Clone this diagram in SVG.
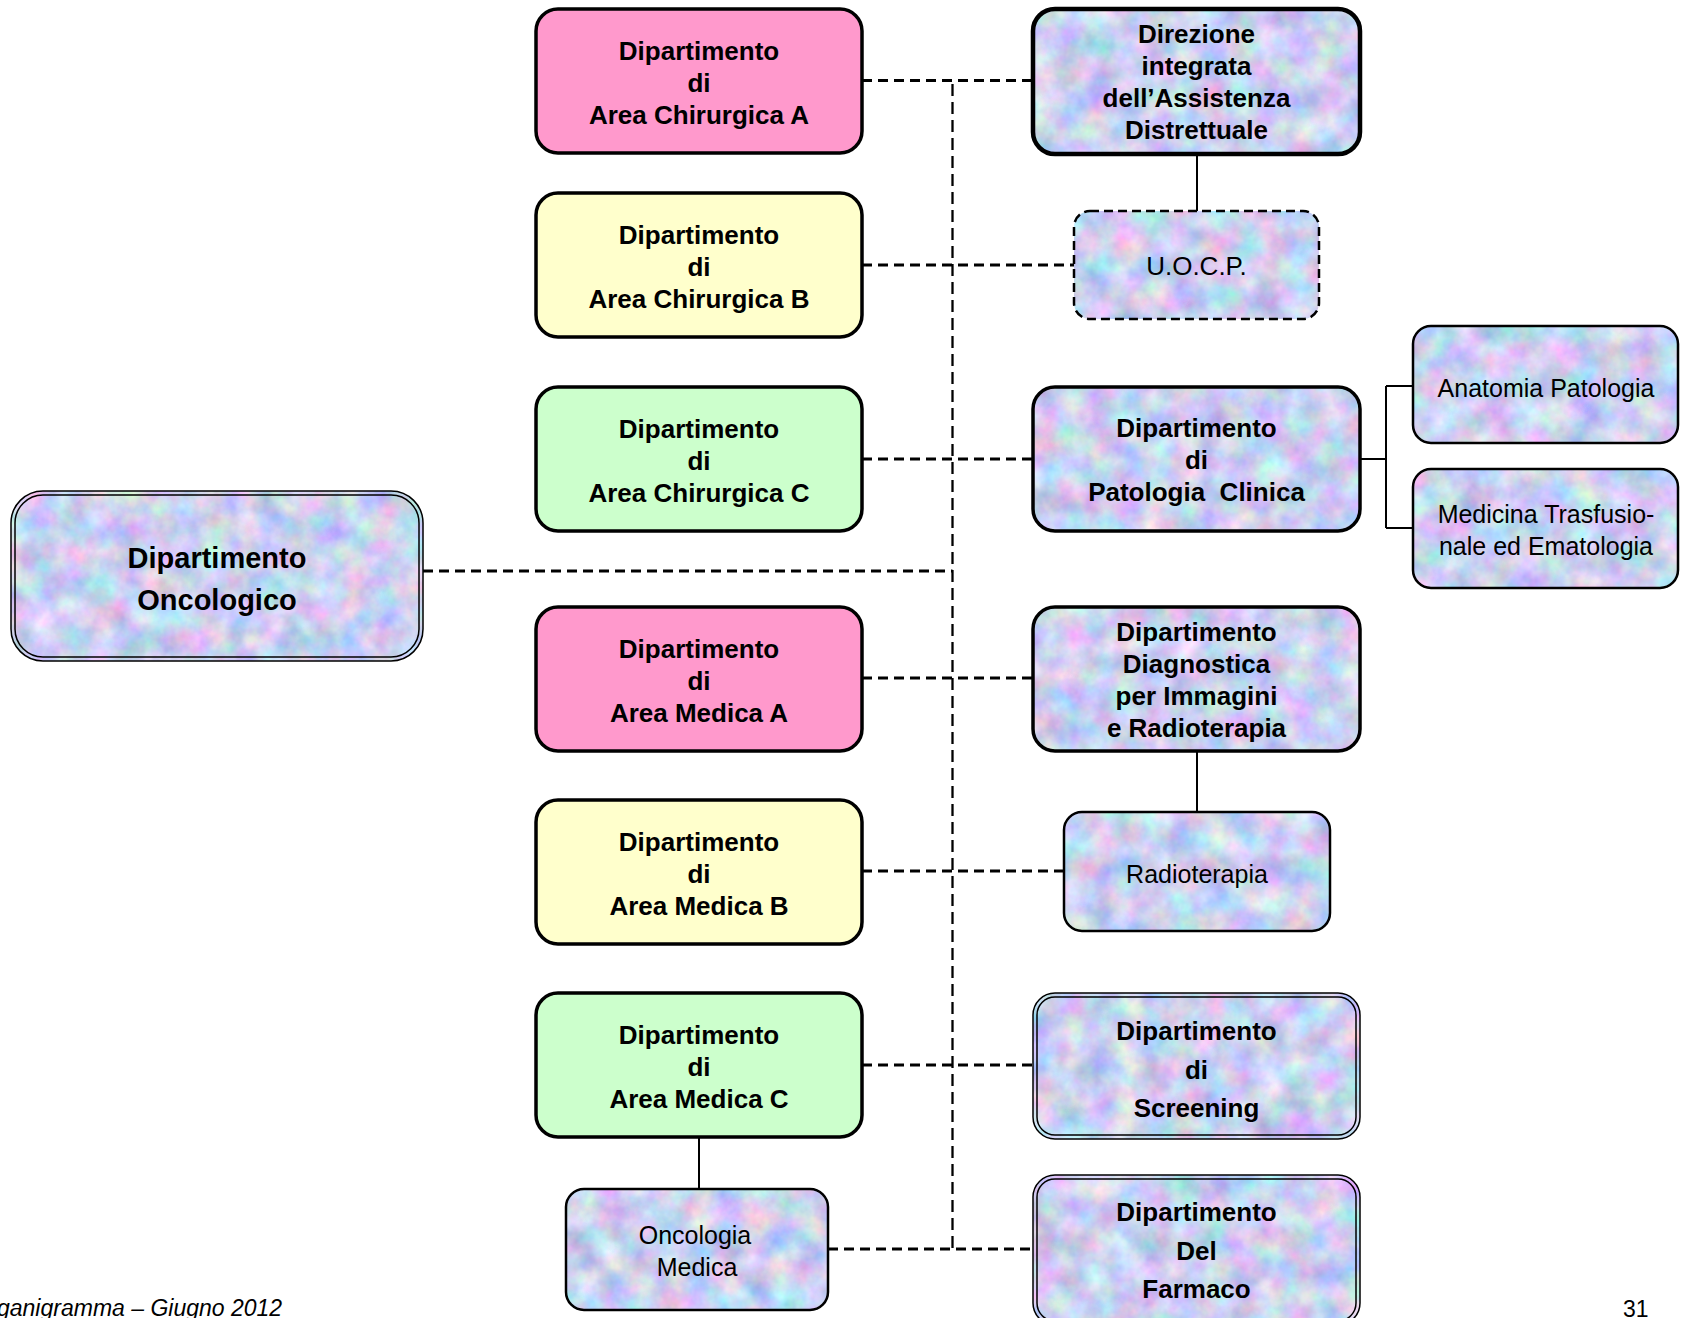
<svg xmlns="http://www.w3.org/2000/svg" width="1682" height="1318" viewBox="0 0 1682 1318">
<defs>
<filter id="tex" x="0" y="0" width="1" height="1" color-interpolation-filters="sRGB">
<feTurbulence type="fractalNoise" baseFrequency="0.035" numOctaves="4" seed="7" result="n"/>
<feColorMatrix in="n" type="matrix" values="0.55 0 0 0 0.52  0 0.45 0 0 0.59  0 0 0.3 0 0.79  0 0 0 0 1" result="c"/>
<feComposite in="c" in2="SourceAlpha" operator="in"/>
</filter>
</defs>
<style>
.tex{fill:#000;filter:url(#tex)}
.b{fill:none;stroke:#000;stroke-width:3.5}
.b4{fill:none;stroke:#000;stroke-width:4.5}
.b2{fill:none;stroke:#000;stroke-width:2.5}
.bd{fill:none;stroke:#000;stroke-width:2.5;stroke-dasharray:9 5}
.bt{fill:none;stroke:#000;stroke-width:1.5}
.pink{fill:#ff99cc;stroke:#000;stroke-width:3.5}
.yel{fill:#ffffcc;stroke:#000;stroke-width:3.5}
.grn{fill:#ccffcc;stroke:#000;stroke-width:3.5}
text{font-family:"Liberation Sans",Arial,sans-serif;text-anchor:middle;fill:#000}
.t{font-size:26px;font-weight:bold}
.tl{font-size:29px;font-weight:bold}
.r{font-size:25px}
.ft{font-size:23px;text-anchor:start;font-style:italic}
.pg{font-size:23px;text-anchor:start}
.dash{fill:none;stroke:#000;stroke-width:2.8;stroke-dasharray:10 6}
.vdash{fill:none;stroke:#000;stroke-width:2.3;stroke-dasharray:12 6}
.solid{fill:none;stroke:#000;stroke-width:2}
</style>

<g id="connectors">
<path class="dash" d="M862 80.5H1033M862 265H1074M862 459H1033M862 678H1033M862 871H1064M862 1065H1033M828 1249H1033M423 571H952.5"/>
<path class="vdash" d="M952.5 84V1249"/>
<path class="solid" d="M1197 154V211M1197 751V812M699 1137V1189M1360 459H1386M1386 386V528M1386 386H1413M1386 528H1413"/>
</g>

<g id="chir-a">
<rect class="pink" x="536" y="9" width="326" height="144" rx="22"/>
<text class="t" x="699" y="60">Dipartimento</text>
<text class="t" x="699" y="92">di</text>
<text class="t" x="699" y="124">Area Chirurgica A</text>
</g>
<g id="chir-b">
<rect class="yel" x="536" y="193" width="326" height="144" rx="22"/>
<text class="t" x="699" y="244">Dipartimento</text>
<text class="t" x="699" y="276">di</text>
<text class="t" x="699" y="308">Area Chirurgica B</text>
</g>
<g id="chir-c">
<rect class="grn" x="536" y="387" width="326" height="144" rx="22"/>
<text class="t" x="699" y="438">Dipartimento</text>
<text class="t" x="699" y="470">di</text>
<text class="t" x="699" y="502">Area Chirurgica C</text>
</g>
<g id="med-a">
<rect class="pink" x="536" y="607" width="326" height="144" rx="22"/>
<text class="t" x="699" y="658">Dipartimento</text>
<text class="t" x="699" y="690">di</text>
<text class="t" x="699" y="722">Area Medica A</text>
</g>
<g id="med-b">
<rect class="yel" x="536" y="800" width="326" height="144" rx="22"/>
<text class="t" x="699" y="851">Dipartimento</text>
<text class="t" x="699" y="883">di</text>
<text class="t" x="699" y="915">Area Medica B</text>
</g>
<g id="med-c">
<rect class="grn" x="536" y="993" width="326" height="144" rx="22"/>
<text class="t" x="699" y="1044">Dipartimento</text>
<text class="t" x="699" y="1076">di</text>
<text class="t" x="699" y="1108">Area Medica C</text>
</g>

<g id="oncologico">
<rect class="tex" x="11" y="491" width="412" height="170" rx="32"/>
<rect class="bt" x="11" y="491" width="412" height="170" rx="32"/>
<rect class="bt" x="15" y="495" width="404" height="162" rx="28"/>
<text class="tl" x="217" y="568">Dipartimento</text>
<text class="tl" x="217" y="610">Oncologico</text>
</g>

<g id="oncologia-medica">
<rect class="tex" x="566" y="1189" width="262" height="121" rx="18"/>
<rect class="b2" x="566" y="1189" width="262" height="121" rx="18"/>
<text class="r" x="695" y="1244">Oncologia</text>
<text class="r" x="697" y="1276">Medica</text>
</g>

<g id="direzione">
<rect class="tex" x="1033" y="9" width="327" height="145" rx="22"/>
<rect class="b4" x="1033" y="9" width="327" height="145" rx="22"/>
<text class="t" x="1196.5" y="43">Direzione</text>
<text class="t" x="1196.5" y="75">integrata</text>
<text class="t" x="1196.5" y="107">dell’Assistenza</text>
<text class="t" x="1196.5" y="139">Distrettuale</text>
</g>

<g id="uocp">
<rect class="tex" x="1074" y="211" width="245" height="108" rx="16"/>
<rect class="bd" x="1074" y="211" width="245" height="108" rx="16"/>
<text class="r" x="1196.5" y="275" style="font-size:26px">U.O.C.P.</text>
</g>

<g id="patologia">
<rect class="tex" x="1033" y="387" width="327" height="144" rx="22"/>
<rect class="b" x="1033" y="387" width="327" height="144" rx="22"/>
<text class="t" x="1196.5" y="437">Dipartimento</text>
<text class="t" x="1196.5" y="469">di</text>
<text class="t" x="1196.5" y="501" xml:space="preserve">Patologia  Clinica</text>
</g>

<g id="anatomia">
<rect class="tex" x="1413" y="326" width="265" height="117" rx="18"/>
<rect class="b2" x="1413" y="326" width="265" height="117" rx="18"/>
<text class="r" x="1546" y="397">Anatomia Patologia</text>
</g>

<g id="medicina">
<rect class="tex" x="1413" y="469" width="265" height="119" rx="18"/>
<rect class="b2" x="1413" y="469" width="265" height="119" rx="18"/>
<text class="r" x="1546" y="523">Medicina Trasfusio-</text>
<text class="r" x="1546" y="555">nale ed Ematologia</text>
</g>

<g id="diagnostica">
<rect class="tex" x="1033" y="607" width="327" height="144" rx="22"/>
<rect class="b" x="1033" y="607" width="327" height="144" rx="22"/>
<text class="t" x="1196.5" y="641">Dipartimento</text>
<text class="t" x="1196.5" y="673">Diagnostica</text>
<text class="t" x="1196.5" y="705">per Immagini</text>
<text class="t" x="1196.5" y="737">e Radioterapia</text>
</g>

<g id="radioterapia">
<rect class="tex" x="1064" y="812" width="266" height="119" rx="18"/>
<rect class="b2" x="1064" y="812" width="266" height="119" rx="18"/>
<text class="r" x="1197" y="883">Radioterapia</text>
</g>

<g id="screening">
<rect class="tex" x="1033" y="993" width="327" height="146" rx="22"/>
<rect class="bt" x="1033" y="993" width="327" height="146" rx="22"/>
<rect class="bt" x="1037" y="997" width="319" height="138" rx="18"/>
<text class="t" x="1196.5" y="1040">Dipartimento</text>
<text class="t" x="1196.5" y="1079">di</text>
<text class="t" x="1196.5" y="1117">Screening</text>
</g>

<g id="farmaco">
<rect class="tex" x="1033" y="1175" width="327" height="150" rx="22"/>
<rect class="bt" x="1033" y="1175" width="327" height="150" rx="22"/>
<rect class="bt" x="1037" y="1179" width="319" height="142" rx="18"/>
<text class="t" x="1196.5" y="1221">Dipartimento</text>
<text class="t" x="1196.5" y="1260">Del</text>
<text class="t" x="1196.5" y="1298">Farmaco</text>
</g>

<text class="ft" x="-3" y="1316">ganigramma – Giugno 2012</text>
<text class="pg" x="1623" y="1317">31</text>
</svg>
